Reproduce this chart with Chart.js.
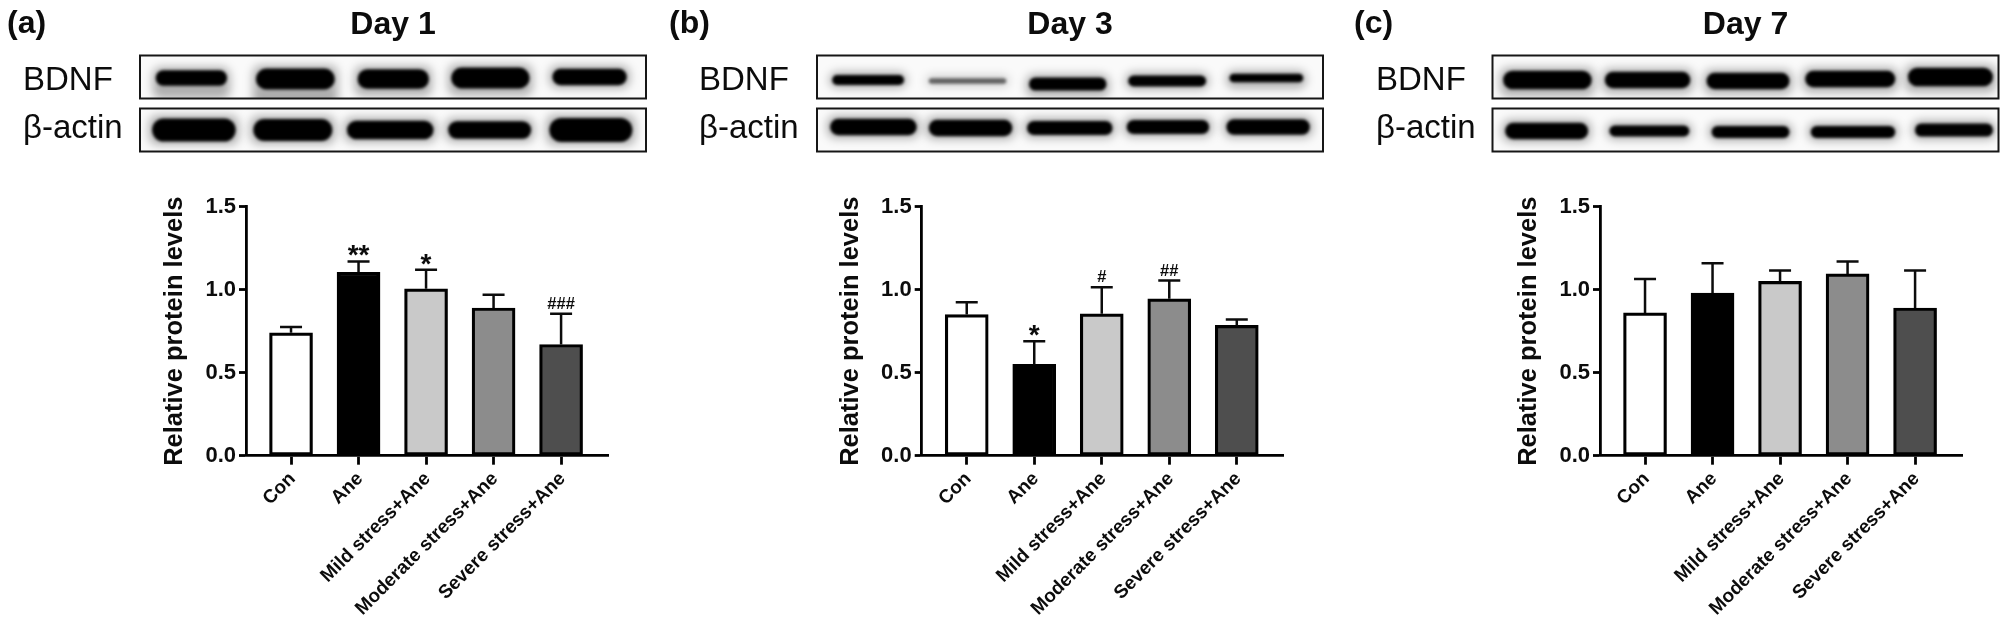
<!DOCTYPE html>
<html>
<head>
<meta charset="utf-8">
<title>BDNF Day 1, 3, 7</title>
<script src="https://cdn.jsdelivr.net/npm/chart.js@4"></script>
<style>
    html, body { margin: 0; padding: 0; background: #fff; }
    #wrap { position: relative; width: 2000px; height: 626px; overflow: hidden; }
    canvas { position: absolute; top: 0; }
</style>
</head>
<body>
<div id="wrap">
    <canvas id="panelA"></canvas>
    <canvas id="panelB"></canvas>
    <canvas id="panelC"></canvas>
</div>
<script>
// Data
const categories = ["Con", "Ane", "Mild stress+Ane", "Moderate stress+Ane", "Severe stress+Ane"];
const yTicks = [0, 0.5, 1.0, 1.5];
const yTitle = "Relative protein levels";

const day1Means = [0.74, 1.105, 1.005, 0.89, 0.67];
const day1ErrorTops = [0.775, 1.17, 1.12, 0.97, 0.855];
const day1Marks = ["", "**", "*", "", "###"];

const day3Means = [0.85, 0.55, 0.855, 0.945, 0.785];
const day3ErrorTops = [0.925, 0.69, 1.015, 1.055, 0.82];
const day3Marks = ["", "*", "#", "##", ""];

const day7Means = [0.86, 0.98, 1.05, 1.095, 0.89];
const day7ErrorTops = [1.065, 1.16, 1.115, 1.17, 1.115];
const day7Marks = ["", "", "", "", ""];

// Bar fills, one per category
const barColors = ["#ffffff", "#000000", "#c9c9c9", "#8c8c8c", "#4e4e4e"];

// Western blot strips: [from, to, centre y, thickness, darkness, smear]
// from/to are fractions of the strip width, y is page pixels
const blotA = {
    bdnf: [[.031, .172, 78, 13, 1, 10], [.229, .385, 79, 18, 1, 16], [.43, .571, 79, 17, 1, 4], [.615, .770, 78, 18, 1, 4], [.815, .962, 77, 14, 1, 0]],
    actin: [[.024, .189, 130, 20, 1, 0], [.224, .380, 130, 19, 1, 0], [.409, .580, 130, 16, 1, 0], [.609, .773, 130, 15, 1, 0], [.809, .973, 130, 21, 1, 0]]
};
const blotB = {
    bdnf: [[.03, .172, 80, 8, 1, 0], [.221, .374, 81, 4, .55, 0], [.419, .572, 84, 11, 1, 3], [.615, .769, 81, 9, 1, 0], [.815, .961, 78, 7, 1, 3]],
    actin: [[.026, .197, 127, 14, 1, 0], [.221, .386, 128, 14, 1, 0], [.415, .584, 128, 12, 1, 0], [.612, .775, 127, 12, 1, 0], [.809, .974, 127, 13, 1, 0]]
};
const blotC = {
    bdnf: [[.021, .196, 80, 16, 1, 4], [.222, .391, 80, 14, 1, 2], [.423, .587, 81, 14, 1, 2], [.618, .796, 79, 14, 1, 2], [.821, .989, 77, 16, 1, 3]],
    actin: [[.025, .189, 131, 14, 1, 0], [.231, .389, 131, 9, 1, 0], [.433, .587, 132, 10, 1, 0], [.629, .796, 132, 10, 1, 0], [.835, .989, 130, 11, 1, 0]]
};

const FONT = "'Liberation Sans', Arial, sans-serif";
const INK = "#0c0c0c";

// Draws the gel strip with its blurred bands
function drawStrip(ctx, x, y, w, h, bands) {
    ctx.save();
    ctx.fillStyle = "#fafafa";
    ctx.fillRect(x, y, w, h);
    ctx.beginPath();
    ctx.rect(x, y, w, h);
    ctx.clip();
    bands.forEach(([from, to, cy, thick, dark, smear]) => {
        const bx = x + from * w;
        const bw = (to - from) * w;
        const core = thick * 1.1 + 1;
        ctx.filter = "blur(5px)";
        ctx.fillStyle = "rgba(0,0,0," + (0.3 * dark) + ")";
        ctx.beginPath();
        ctx.roundRect(bx - 3, cy - core / 2 - 3, bw + 6, core + 6 + smear, 8);
        ctx.fill();
        ctx.filter = "blur(1.6px)";
        ctx.fillStyle = "rgba(0,0,0," + dark + ")";
        ctx.beginPath();
        ctx.roundRect(bx, cy - core / 2, bw, core, core / 2);
        ctx.fill();
    });
    ctx.restore();
    ctx.strokeStyle = "#161616";
    ctx.lineWidth = 2;
    ctx.strokeRect(x, y, w, h);
}

function makePanel(cfg) {
    const canvas = document.getElementById(cfg.id);
    canvas.style.left = cfg.left + "px";
    canvas.width = cfg.width;
    canvas.height = 626;

    const axisX = cfg.axisX - cfg.left;
    const axisEnd = cfg.axisEnd - cfg.left;
    const stripX = cfg.stripX - cfg.left;

    const headerPlugin = {
        id: "header",
        beforeDraw(chart) {
            const ctx = chart.ctx;
            ctx.save();
            ctx.fillStyle = INK;
            ctx.textBaseline = "alphabetic";
            ctx.font = "bold 32px " + FONT;
            ctx.textAlign = "left";
            ctx.fillText(cfg.letter, cfg.letterX - cfg.left, 33);
            ctx.textAlign = "center";
            ctx.fillText(cfg.title, stripX + 253, 34);
            ctx.font = "33px " + FONT;
            ctx.textAlign = "left";
            ctx.fillText("BDNF", cfg.nameX - cfg.left, 90);
            ctx.fillText("β-actin", cfg.nameX - cfg.left, 138);
            drawStrip(ctx, stripX, 55.5, 506, 43, cfg.blot.bdnf);
            drawStrip(ctx, stripX, 108.5, 506, 43, cfg.blot.actin);
            ctx.restore();
        }
    };

    const errorPlugin = {
        id: "errorBars",
        afterDatasetsDraw(chart) {
            const ctx = chart.ctx;
            const xs = chart.scales.x;
            const ys = chart.scales.y;
            ctx.save();
            ctx.strokeStyle = INK;
            ctx.fillStyle = INK;
            ctx.lineWidth = 2.5;
            ctx.textAlign = "center";
            ctx.textBaseline = "alphabetic";
            cfg.means.forEach((mean, i) => {
                const px = xs.getPixelForValue(i);
                const top = ys.getPixelForValue(cfg.errorTops[i]);
                ctx.beginPath();
                ctx.moveTo(px, ys.getPixelForValue(mean));
                ctx.lineTo(px, top);
                ctx.moveTo(px - 11, top);
                ctx.lineTo(px + 11, top);
                ctx.stroke();
                const mark = cfg.marks[i];
                if (mark) {
                    if (mark[0] === "*") {
                        ctx.font = "bold 28px " + FONT;
                        ctx.fillText(mark, px, top + 3);
                    } else {
                        ctx.font = "bold 16.5px " + FONT;
                        ctx.fillText(mark, px, top - 5);
                    }
                }
            });
            ctx.restore();
        }
    };

    return new Chart(canvas, {
        type: "bar",
        data: {
            datasets: [{
                data: cfg.means.map((v, i) => ({ x: i, y: v })),
                backgroundColor: barColors,
                borderColor: "#000000",
                borderWidth: 3.2,
                borderSkipped: false,
                barThickness: 43
            }]
        },
        options: {
            responsive: false,
            devicePixelRatio: 1,
            animation: false,
            layout: {
                padding: { left: axisX - 86, right: cfg.width - axisEnd, top: 206.7, bottom: 626 - 455.7 - 165 }
            },
            plugins: { legend: { display: false }, tooltip: { enabled: false } },
            scales: {
                x: {
                    type: "linear",
                    offset: false,
                    // the axis runs a bit past the first and last bars
                    min: -0.667,
                    max: 4.695,
                    afterBuildTicks: scale => { scale.ticks = categories.map((c, i) => ({ value: i })); },
                    afterFit: scale => { scale.height = 165; },
                    ticks: {
                        autoSkip: false,
                        minRotation: 45,
                        maxRotation: 45,
                        includeBounds: false,
                        padding: 3,
                        labelOffset: 1.5,
                        color: INK,
                        font: { family: FONT, weight: "bold", size: 19 },
                        callback: value => categories[value]
                    },
                    grid: { offset: false, drawOnChartArea: false, tickLength: 9, tickWidth: 2.8, tickColor: "#000" },
                    border: { color: "#000", width: 2.8 }
                },
                y: {
                    min: 0,
                    max: 1.5,
                    afterBuildTicks: scale => { scale.ticks = yTicks.map(v => ({ value: v })); },
                    afterFit: scale => { scale.width = 86; },
                    ticks: {
                        padding: 3,
                        color: INK,
                        font: { family: FONT, weight: "bold", size: 22 },
                        callback: value => value.toFixed(1)
                    },
                    title: {
                        display: true,
                        text: yTitle,
                        color: INK,
                        padding: 0,
                        font: { family: FONT, weight: "bold", size: 25.5 }
                    },
                    grid: { drawOnChartArea: false, tickLength: 7, tickWidth: 2.8, tickColor: "#000" },
                    border: { color: "#000", width: 2.8 }
                }
            }
        },
        plugins: [headerPlugin, errorPlugin]
    });
}

makePanel({
    id: "panelA", left: 0, width: 660, axisX: 246, axisEnd: 608, stripX: 140,
    letter: "(a)", letterX: 7, title: "Day 1", nameX: 23, blot: blotA,
    means: day1Means, errorTops: day1ErrorTops, marks: day1Marks
});
makePanel({
    id: "panelB", left: 660, width: 680, axisX: 921.7, axisEnd: 1283.7, stripX: 817,
    letter: "(b)", letterX: 669, title: "Day 3", nameX: 699, blot: blotB,
    means: day3Means, errorTops: day3ErrorTops, marks: day3Marks
});
makePanel({
    id: "panelC", left: 1340, width: 660, axisX: 1600, axisEnd: 1962, stripX: 1492.5,
    letter: "(c)", letterX: 1354, title: "Day 7", nameX: 1376, blot: blotC,
    means: day7Means, errorTops: day7ErrorTops, marks: day7Marks
});
</script>
</body>
</html>
